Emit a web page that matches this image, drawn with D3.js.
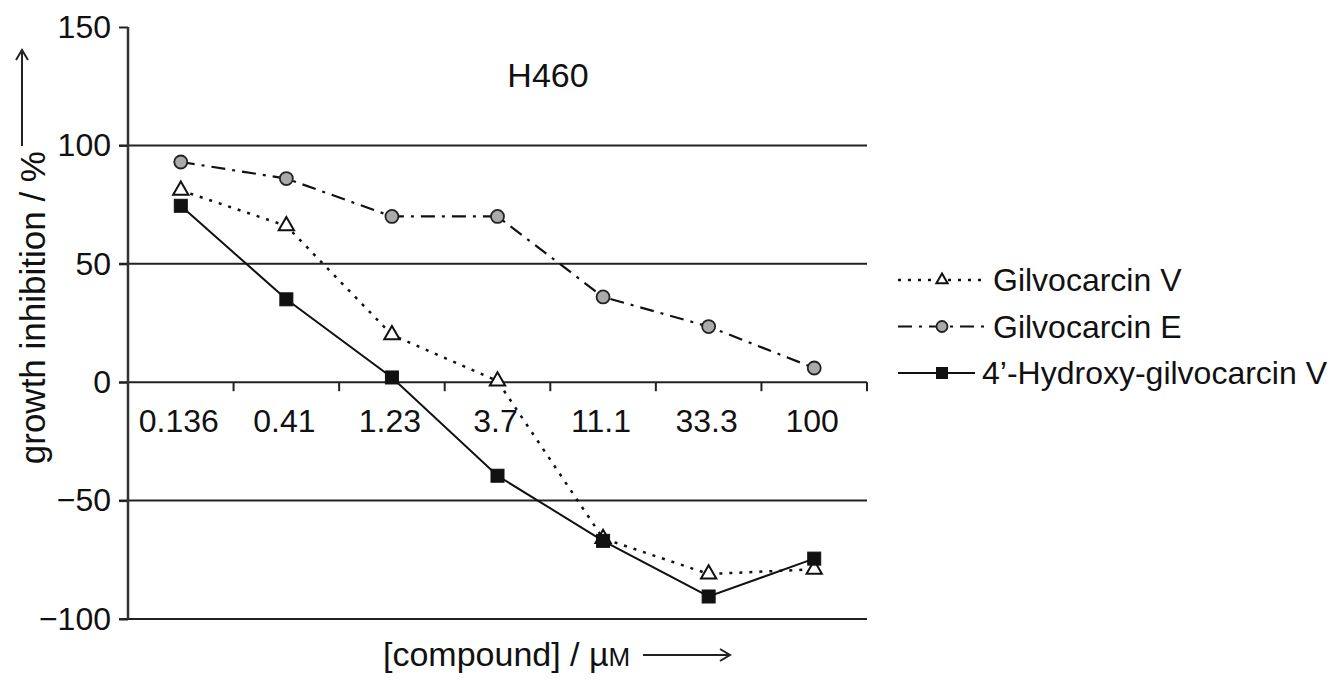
<!DOCTYPE html>
<html>
<head>
<meta charset="utf-8">
<script src="https://cdn.jsdelivr.net/npm/d3@7"></script>
<style>
  body { margin: 0; background: #fff; }
  svg text { font-family: 'Liberation Sans', Arial, sans-serif; fill: #111; }
</style>
</head>
<body>
<svg id="chart" width="1334" height="683"></svg>
<script>
// concentrations (µM) on the x axis
const concentrations = ['0.136', '0.41', '1.23', '3.7', '11.1', '33.3', '100']
const yTicks = [-100, -50, 0, 50, 100, 150]

// growth inhibition (%) per compound
const gilvocarcinV = [81, 66, 20, 0.5, -66, -81, -79]
const gilvocarcinE = [93, 86, 70, 70, 36, 23.5, 6]
const hydroxyGilvocarcinV = [74.5, 35, 2, -39.5, -67, -90.5, -74.5]

const seriesNames = ['Gilvocarcin V', 'Gilvocarcin E', '4\u2019-Hydroxy-gilvocarcin V']

const svg = d3.select('#chart')
const PLOT = { left: 128, right: 867, top: 27, bottom: 619 }

let x = d3.scaleBand()
  .domain(concentrations)
  .range([PLOT.left, PLOT.right])
  .padding(0)

let y = d3.scaleLinear()
  .domain([-100, 150])
  .range([PLOT.bottom, PLOT.top])

// horizontal grid lines (none at 150)
svg.append('g')
  .selectAll('line')
  .data(yTicks.filter(d => d !== 150))
  .enter().append('line')
  .attr('x1', PLOT.left - 9)
  .attr('x2', PLOT.right)
  .attr('y1', d => y(d))
  .attr('y2', d => y(d))
  .attr('stroke', '#222')
  .attr('stroke-width', 2)

// y axis
let yAxis = d3.axisLeft(y).tickValues(yTicks).tickSize(9).tickPadding(8)
  .tickFormat(d => d < 0 ? '\u2212' + Math.abs(d) : d)
let yG = svg.append('g')
  .attr('transform', 'translate(' + PLOT.left + ',0)')
  .call(yAxis)
yG.select('.domain').remove()
yG.selectAll('line').attr('stroke', '#222').attr('stroke-width', 2)
yG.selectAll('text')
  .attr('font-size', 32)
  .attr('font-family', "'Liberation Sans', Arial, sans-serif")
  .attr('fill', '#111')
svg.append('line')
  .attr('x1', PLOT.left).attr('x2', PLOT.left)
  .attr('y1', PLOT.top).attr('y2', PLOT.bottom)
  .attr('stroke', '#333').attr('stroke-width', 2.5)

// x axis: ticks at category boundaries, labels below the zero line
let boundaries = concentrations.map(c => x(c)).concat([PLOT.right])
svg.append('g')
  .selectAll('line')
  .data(boundaries.slice(1))
  .enter().append('line')
  .attr('x1', d => d).attr('x2', d => d)
  .attr('y1', y(0)).attr('y2', y(0) + 9)
  .attr('stroke', '#222').attr('stroke-width', 2)

svg.append('g')
  .selectAll('text')
  .data(concentrations)
  .enter().append('text')
  .attr('x', d => x(d) + x.bandwidth() / 2 - 2)
  .attr('y', y(0) + 50)
  .attr('text-anchor', 'middle')
  .attr('font-size', 32)
  .text(d => d)

// title
svg.append('text')
  .attr('x', 548)
  .attr('y', 87)
  .attr('text-anchor', 'middle')
  .attr('font-size', 34)
  .text('H460')

// axis titles with arrows
svg.append('text')
  .attr('transform', 'translate(45,151) rotate(-90)')
  .attr('text-anchor', 'end')
  .attr('font-size', 35)
  .text('growth inhibition / %')
svg.append('path')
  .attr('d', 'M22,146 L22,50 M16,60 L22,50 L28,60')
  .attr('fill', 'none').attr('stroke', '#222').attr('stroke-width', 2)

let xt = svg.append('text')
  .attr('x', 383)
  .attr('y', 666)
  .attr('font-size', 34)
xt.append('tspan').text('[compound] / \u00b5')
xt.append('tspan').attr('font-size', 26).text('M')
svg.append('path')
  .attr('d', 'M643,655 L730,655 M720,649 L730,655 L720,661')
  .attr('fill', 'none').attr('stroke', '#222').attr('stroke-width', 2)

// series
const styles = [
  { data: gilvocarcinV, dash: '3,7', width: 2.5, marker: 'triangle', fill: '#fff' },
  { data: gilvocarcinE, dash: '14,7,3,7', width: 2.2, marker: 'circle', fill: '#aaa' },
  { data: hydroxyGilvocarcinV, dash: null, width: 2, marker: 'square', fill: '#111' }
]

let line = d3.line()
  .x((d, i) => x(concentrations[i]) + x.bandwidth() / 2)
  .y(d => y(d))

function drawMarker(g, type, fill, size) {
  if (type === 'triangle') {
    g.append('path')
      .attr('d', d3.symbol(d3.symbolTriangle, size * size * 0.45)())
      .attr('fill', fill).attr('stroke', '#111').attr('stroke-width', 2)
  } else if (type === 'circle') {
    g.append('circle')
      .attr('r', size / 2)
      .attr('fill', fill).attr('stroke', '#222').attr('stroke-width', 1.8)
  } else {
    g.append('rect')
      .attr('x', -size / 2).attr('y', -size / 2)
      .attr('width', size).attr('height', size)
      .attr('fill', fill).attr('stroke', '#111').attr('stroke-width', 1)
  }
}

let drawOrder = [1, 0, 2]
drawOrder.forEach(function(k) {
  let s = styles[k]
  svg.append('path')
    .datum(s.data)
    .attr('d', line)
    .attr('fill', 'none')
    .attr('stroke', '#111')
    .attr('stroke-width', s.width)
    .attr('stroke-dasharray', s.dash)
  s.data.forEach(function(v, i) {
    let g = svg.append('g')
      .attr('transform', 'translate(' + (x(concentrations[i]) + x.bandwidth() / 2) + ',' + y(v) + ')')
    drawMarker(g, s.marker, s.fill, s.marker === 'triangle' ? 15 : 13)
  })
})

// legend
let legend = svg.append('g')
seriesNames.forEach(function(name, k) {
  let s = styles[k]
  let cy = 280 + k * 46.5
  legend.append('line')
    .attr('x1', 898).attr('x2', k === 2 ? 975 : 987)
    .attr('y1', cy).attr('y2', cy)
    .attr('stroke', '#111').attr('stroke-width', s.width)
    .attr('stroke-dasharray', s.dash)
  let g = legend.append('g').attr('transform', 'translate(942,' + cy + ')')
  drawMarker(g, s.marker, s.fill, 11)
  legend.append('text')
    .attr('x', k === 2 ? 982 : 993)
    .attr('y', cy + 11)
    .attr('font-size', 32)
    .text(name)
})
</script>
</body>
</html>
